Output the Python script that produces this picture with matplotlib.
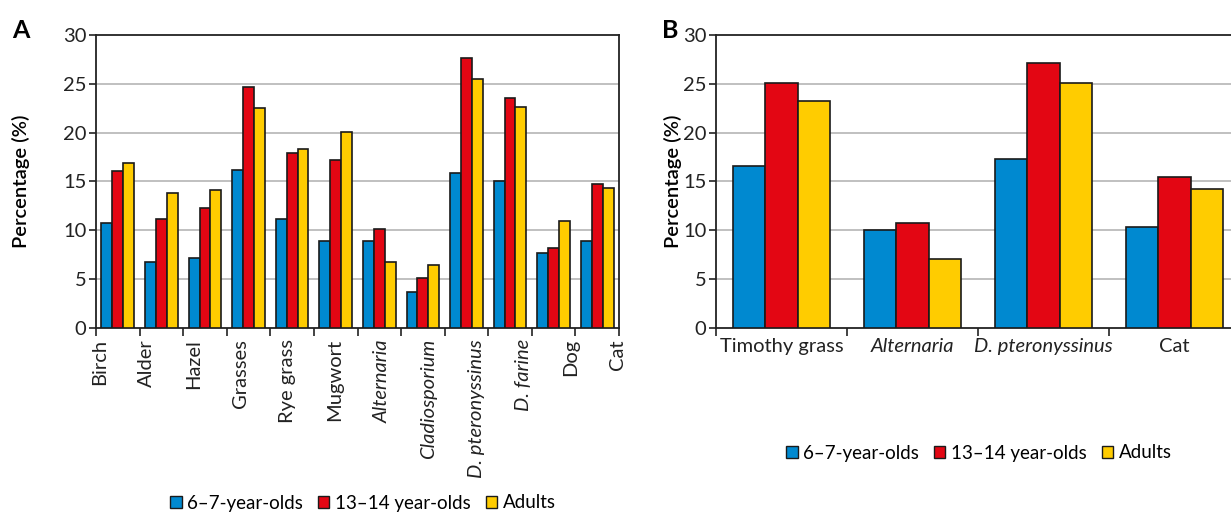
import matplotlib
matplotlib.use("Agg")
import matplotlib.pyplot as plt
import numpy as np
from matplotlib.patches import Patch

plt.rcParams['font.family'] = ['Lato', 'DejaVu Sans']

# panel A data
allergens_a = ['Birch', 'Alder', 'Hazel', 'Grasses', 'Rye grass', 'Mugwort',
               'Alternaria', 'Cladiosporium', 'D. pteronyssinus', 'D. farine',
               'Dog', 'Cat']
italic_a = [False, False, False, False, False, False, True, True, True, True,
            False, False]
kids_a = [10.7, 6.8, 7.2, 16.2, 11.2, 8.9, 8.9, 3.7, 15.9, 15.1, 7.7, 8.9]
teens_a = [16.1, 11.2, 12.3, 24.7, 17.9, 17.2, 10.1, 5.1, 27.6, 23.6, 8.2, 14.7]
adults_a = [16.9, 13.8, 14.1, 22.5, 18.3, 20.1, 6.8, 6.5, 25.5, 22.6, 11.0, 14.3]

# panel B data
allergens_b = ['Timothy grass', 'Alternaria', 'D. pteronyssinus', 'Cat']
italic_b = [False, True, True, False]
kids_b = [16.6, 10.0, 17.3, 10.3]
teens_b = [25.1, 10.8, 27.1, 15.5]
adults_b = [23.2, 7.1, 25.1, 14.2]

series_names = ['6\u20137-year-olds', '13\u201314 year-olds', 'Adults']
colors = ['#0089D0', '#E30613', '#FFCC00']
FS = 14.5

fig = plt.figure(figsize=(12.31, 5.13), dpi=100)
axA = fig.add_axes([96 / 1231, 185 / 513, 523 / 1231, 293 / 513])
axB = fig.add_axes([716 / 1231, 185 / 513, 524 / 1231, 293 / 513])


def style_axes(ax, n, ylab_x):
    ax.set_ylim(0, 30)
    ax.set_xlim(0, n)
    ax.set_yticks(range(0, 31, 5))
    ax.set_xticks(range(0, n + 1))
    ax.set_xticklabels([])
    for y in range(5, 30, 5):
        ax.axhline(y, color='#b5b5b5', lw=1.2, zorder=0)
    for s in ax.spines.values():
        s.set_color('#222222')
        s.set_linewidth(1.3)
    ax.tick_params(axis='y', length=5, width=1.2, labelsize=FS, pad=2,
                   colors='#222222')
    ax.tick_params(axis='x', length=6, width=1.2, colors='#222222')
    ax.set_ylabel('Percentage (%)', fontsize=FS, fontweight='semibold')
    ax.yaxis.set_label_coords(ylab_x, 0.5)


def draw_bars(ax, groups, width):
    x = np.arange(len(groups[0])) + 0.5
    for k, vals in enumerate(groups):
        ax.bar(x + (k - 1) * width, vals, width, color=colors[k],
               edgecolor='#1a1a1a', linewidth=1.2, zorder=3)


style_axes(axA, 12, (30 - 96) / 523)
draw_bars(axA, [kids_a, teens_a, adults_a], 0.25)
# labels are spread evenly from the left edge to the right edge
label_pos = np.linspace(0.08, 11.96, len(allergens_a))
for xp, name, it in zip(label_pos, allergens_a, italic_a):
    axA.annotate(name, (xp, 0), xytext=(0, -8), textcoords='offset points',
                 rotation=90, ha='center', va='top', fontsize=FS,
                 style='italic' if it else 'normal', color='#222222',
                 annotation_clip=False)

style_axes(axB, 4, (682 - 716) / 524)
draw_bars(axB, [kids_b, teens_b, adults_b], 0.245)
for i, (name, it) in enumerate(zip(allergens_b, italic_b)):
    axB.annotate(name, (i + 0.5, 0), xytext=(0, -7), textcoords='offset points',
                 ha='center', va='top', fontsize=FS,
                 style='italic' if it else 'normal', color='#222222',
                 annotation_clip=False)

handles = [Patch(facecolor=c, edgecolor='#1a1a1a', linewidth=1.0) for c in colors]
for cx, cy in [(363 / 1231, 10 / 513), (979 / 1231, 60 / 513)]:
    fig.legend(handles, series_names, loc='center', bbox_to_anchor=(cx, cy),
               ncol=3, frameon=False, fontsize=13.5, handlelength=0.6,
               handleheight=0.6, handletextpad=0.3, columnspacing=0.8)

fig.text(12 / 1231, 1 - 30 / 513, 'A', fontsize=18, fontweight='bold',
         va='center', ha='left')
fig.text(662 / 1231, 1 - 30 / 513, 'B', fontsize=18, fontweight='bold',
         va='center', ha='left')

fig.savefig('out.png', dpi=100)
